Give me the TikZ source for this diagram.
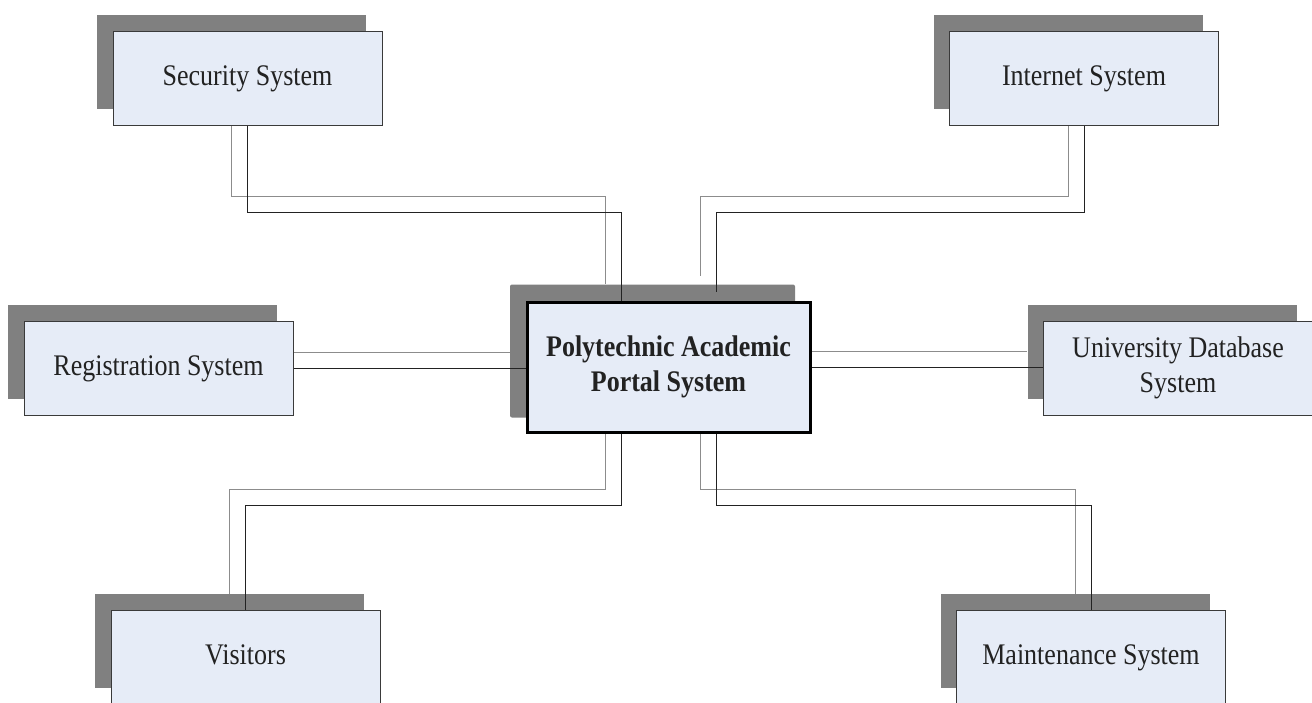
\documentclass[tikz,border=0pt]{standalone}
\usepackage{fontspec}
\usepackage{graphicx}
\setmainfont{Liberation Serif}
\usetikzlibrary{calc}

\definecolor{boxfill}{HTML}{E6ECF7}
\definecolor{shadowgray}{HTML}{808080}
\definecolor{boxline}{HTML}{3A3A3A}
\definecolor{wiredark}{HTML}{222222}
\definecolor{wiregray}{HTML}{8C8C8C}
\definecolor{labelink}{HTML}{222222}

\pgfdeclarelayer{shadowlayer}
\pgfdeclarelayer{wirelayer}
\pgfsetlayers{shadowlayer,wirelayer,main}

% slightly tall lettering, one or more centred lines
\newcommand\talltext[1]{\scalebox{1}[1.15]{\begin{tabular}{@{}c@{}}#1\end{tabular}}}

\tikzset{
  unitbox/.style={draw=boxline, line width=1pt, fill=boxfill, text=labelink,
    minimum width=269pt, minimum height=94pt, inner sep=0pt,
    font=\fontsize{26}{31}\selectfont},
  unitshade/.style={fill=shadowgray, draw=none,
    minimum width=269pt, minimum height=94pt, inner sep=0pt},
  corebox/.style={unitbox, draw=black, line width=3pt,
    minimum width=283pt, minimum height=130pt,
    font=\fontsize{26}{31}\selectfont\bfseries},
  coreshade/.style={unitshade, rounded corners=2pt,
    minimum width=285pt, minimum height=133pt},
  wire/.style={draw=wiredark, line width=1pt},
  wireshade/.style={draw=wiregray, line width=1pt},
}

\begin{document}
\begin{tikzpicture}[x=1pt, y=-1pt]
\useasboundingbox (0,0) rectangle (1312,702);

% front boxes
\node[corebox] (core) at (668.5,367) {\talltext{Polytechnic Academic\\Portal System}};
\node[unitbox] (sec) at (247.5,78)  {\talltext{Security System}};
\node[unitbox] (int) at (1084,78)   {\talltext{Internet System}};
\node[unitbox] (reg) at (158.5,368) {\talltext{Registration System}};
\node[unitbox] (uni) at (1178,368)  {\talltext{University Database\\System}};
\node[unitbox] (vis) at (245.5,657) {\talltext{Visitors}};
\node[unitbox] (mnt) at (1091,657)  {\talltext{Maintenance System}};

% drop shadows behind every box
\begin{pgfonlayer}{shadowlayer}
  \node[coreshade] (core-s) at ($(core)+(-16,-16)$) {};
  \foreach \b in {sec,int,reg,uni,vis,mnt}
    \node[unitshade] (\b-s) at ($(\b)+(-16,-16)$) {};
\end{pgfonlayer}

% connectors: dark wire plus its grey shadow wire
\begin{pgfonlayer}{wirelayer}
  % Security System
  \draw[wireshade] (sec-s.south) -- ++(0,87) -| ($(core-s.north)+(-47.5,0)$);
  \draw[wire]      (sec.south)   -- ++(0,87) -| ($(core.north)+(-47.5,0)$);
  % Internet System
  \draw[wireshade] (int-s.south) -- ++(0,87) -| ($(core-s.north)+(47.5,-8)$);
  \draw[wire]      (int.south)   -- ++(0,87) -| ($(core.north)+(47.5,-9)$);
  % Registration System
  \draw[wireshade] (reg-s.east) -- (reg-s.east -| core-s.west);
  \draw[wire]      (reg.east)   -- (reg.east -| core.west);
  % University Database System
  \draw[wireshade] (core-s.east) -- (core-s.east -| uni-s.west);
  \draw[wire]      (core.east)   -- (core.east -| uni.west);
  % Visitors
  \draw[wireshade] ($(core-s.south)+(-47.5,0)$) -- ++(0,72) -| (vis-s.north);
  \draw[wire]      ($(core.south)+(-47.5,0)$)   -- ++(0,72) -| (vis.north);
  % Maintenance System
  \draw[wireshade] ($(core-s.south)+(47.5,0)$) -- ++(0,72) -| (mnt-s.north);
  \draw[wire]      ($(core.south)+(47.5,0)$)   -- ++(0,72) -| (mnt.north);
\end{pgfonlayer}
\end{tikzpicture}
\end{document}
